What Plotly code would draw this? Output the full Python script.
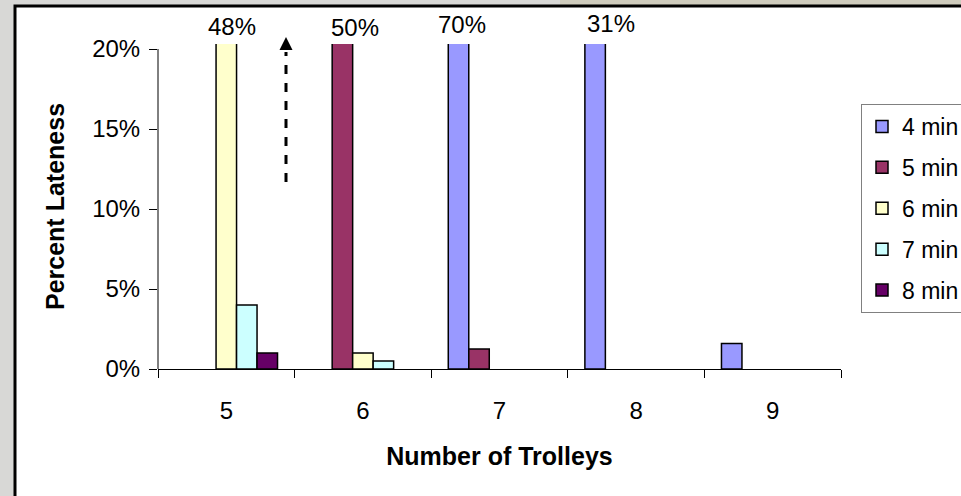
import plotly.graph_objects as go

# ---------------- data ----------------
categories = ["5", "6", "7", "8", "9"]
series_names = ["4 min", "5 min", "6 min", "7 min", "8 min"]
late_4min = [0.0, 0.0, 0.70, 0.31, 0.016]
late_5min = [0.0, 0.50, 0.0125, 0.0, 0.0]
late_6min = [0.48, 0.01, 0.0, 0.0, 0.0]
late_7min = [0.04, 0.005, 0.0, 0.0, 0.0]
late_8min = [0.01, 0.0, 0.0, 0.0, 0.0]
y_tick_vals = [0, 0.05, 0.10, 0.15, 0.20]

series_values = [late_4min, late_5min, late_6min, late_7min, late_8min]
colors = ["#9999FF", "#993366", "#FFFFCC", "#CCFFFF", "#660066"]

# ---------------- layout geometry (pixels) ----------------
W, H = 961, 496
L, R, T, B = 158, 120, 44, 127
plot_w = W - L - R
plot_h = H - T - B
y_axis_max = 0.20
y_top = y_axis_max * plot_h / 320.0  # a little headroom above 20%
bargap = 0.25
bar_unit = (1 - bargap) / len(series_names)


def px_to_paper_x(px):
    return (px - L) / plot_w


def px_to_paper_y(py):
    return (H - B - py) / plot_h


FONT = "Liberation Sans, Arial, sans-serif"

fig = go.Figure()
for i, (name, vals) in enumerate(zip(series_names, series_values)):
    fig.add_trace(go.Bar(
        x=categories, y=[v if v > 0 else None for v in vals],
        name=name, legendgroup=name,
        marker=dict(color=colors[i], line=dict(color="black", width=1.5)),
    ))

# labels for bars that run off the top of the axis
label_nudge = {(0, 2): (6, 26), (1, 1): (13, 27.5), (2, 0): (3, 24), (3, 0): (16, 23)}
annotations = []
for si, vals in enumerate(series_values):
    for ci, v in enumerate(vals):
        if v > y_axis_max:
            dx, ypx = label_nudge.get((ci, si), (0, 25))
            annotations.append(dict(
                x=ci + (si - (len(series_names) - 1) / 2) * bar_unit, xref="x",
                y=px_to_paper_y(ypx), yref="paper",
                text=f"{v:.0%}", showarrow=False, xshift=dx,
                xanchor="center", yanchor="middle",
                font=dict(family=FONT, size=24, color="black"),
            ))

arrow_x = (286 - L) / (plot_w / len(categories)) - 0.5

shapes = [
    # slightly tan strip of the backdrop at the top right
    dict(type="rect", xref="paper", yref="paper",
         x0=px_to_paper_x(560), x1=px_to_paper_x(W + 20),
         y0=px_to_paper_y(8), y1=px_to_paper_y(-5),
         fillcolor="#cfccbd", line=dict(width=0), layer="below"),
    # white chart box with black frame
    dict(type="rect", xref="paper", yref="paper",
         x0=px_to_paper_x(15), x1=px_to_paper_x(W + 20),
         y0=px_to_paper_y(H + 20), y1=px_to_paper_y(6),
         fillcolor="white", line=dict(color="black", width=3), layer="below"),
    # y axis line (0% .. 20%)
    dict(type="line", xref="paper", yref="paper", x0=0, x1=0,
         y0=0, y1=y_axis_max / y_top, line=dict(color="black", width=1)),
    # dashed arrow shaft
    dict(type="line", xref="x", yref="paper", x0=arrow_x, x1=arrow_x,
         y0=px_to_paper_y(182), y1=px_to_paper_y(52),
         line=dict(color="black", width=3, dash="dash")),
    # arrow head
    dict(type="path", xref="x", yref="paper", xsizemode="pixel", ysizemode="pixel",
         xanchor=arrow_x, yanchor=px_to_paper_y(50),
         path="M-6.5,0 L6.5,0 L0,13 Z", fillcolor="black", line=dict(width=0)),
]

fig.update_layout(
    width=W, height=H,
    margin=dict(l=L, r=R, t=T, b=B, autoexpand=False),
    paper_bgcolor="#d8d8d6", plot_bgcolor="rgba(0,0,0,0)",
    barmode="group", bargap=bargap, bargroupgap=0,
    font=dict(family=FONT, size=22, color="black"),
    showlegend=True,
    legend=dict(
        x=px_to_paper_x(861), y=px_to_paper_y(104), xanchor="left", yanchor="top",
        bgcolor="white", bordercolor="#808080", borderwidth=1,
        font=dict(family=FONT, size=23, color="black"),
        tracegroupgap=8, traceorder="grouped",
    ),
    xaxis=dict(
        type="category", tickson="boundaries", ticks="outside", ticklen=8,
        tickcolor="black", showline=True, linecolor="black", linewidth=1,
        showgrid=False, ticklabelstandoff=20,
        tickfont=dict(family=FONT, size=24, color="black"),
        title=dict(text="<b>Number of Trolleys</b>", standoff=24,
                   font=dict(family=FONT, size=25, color="black")),
    ),
    yaxis=dict(
        range=[0, y_top], tickvals=y_tick_vals, tickformat=".0%",
        ticks="outside", ticklen=8, tickcolor="black", showline=False,
        showgrid=False, zeroline=False, ticklabelstandoff=4,
        tickfont=dict(family=FONT, size=24, color="black"),
        title=dict(text="<b>Percent Lateness</b>", standoff=20,
                   font=dict(family=FONT, size=25, color="black")),
    ),
    annotations=annotations,
    shapes=shapes,
)

fig.write_html(
    "out.html",
    config={"displayModeBar": False},
    post_script="document.body.style.margin='0';document.body.style.overflow='hidden';",
)
